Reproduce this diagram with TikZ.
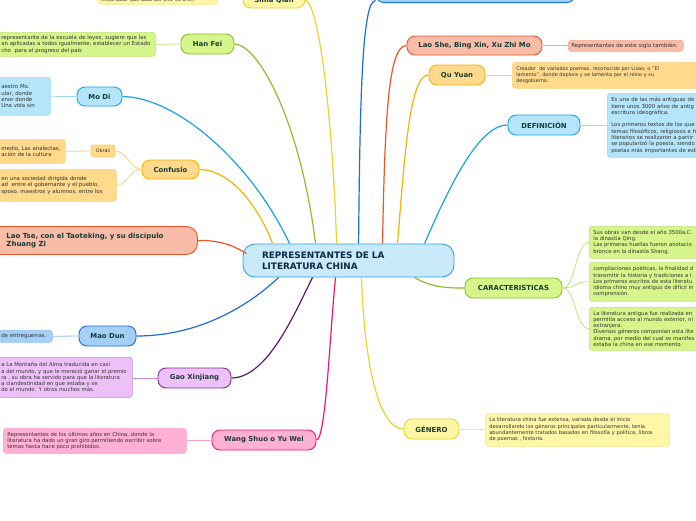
\documentclass[tikz,border=0pt]{standalone}
\usepackage{fontspec}
\setmainfont{DejaVu Sans}
\definecolor{titlecol}{HTML}{173D35}
\definecolor{maincol}{HTML}{0D2A45}
\definecolor{notecol}{HTML}{333333}
\definecolor{yelF}{HTML}{FFF6A6}\definecolor{yelD}{HTML}{E8D52E}\definecolor{yelL}{HTML}{F3E88A}
\definecolor{grnF}{HTML}{D6F58A}\definecolor{grnD}{HTML}{8DBF2E}\definecolor{grnL}{HTML}{C2E57A}
\definecolor{bluF}{HTML}{B5E5FB}\definecolor{bluD}{HTML}{1BA2E4}\definecolor{bluL}{HTML}{9AD8F4}
\definecolor{oraF}{HTML}{FFD98C}\definecolor{oraD}{HTML}{F5B300}\definecolor{oraL}{HTML}{FBD27A}
\definecolor{salF}{HTML}{F9BCA8}\definecolor{salD}{HTML}{F0552A}\definecolor{salL}{HTML}{F6A894}
\definecolor{mdbF}{HTML}{A4D0F8}\definecolor{mdbD}{HTML}{1A6ED8}\definecolor{mdbL}{HTML}{8DC0F2}
\definecolor{purF}{HTML}{EEC0F8}\definecolor{purD}{HTML}{7A2E8C}\definecolor{purL}{HTML}{C58AD4}\definecolor{purK}{HTML}{5A1A6C}
\definecolor{pnkF}{HTML}{FFB0D4}\definecolor{pnkD}{HTML}{F0186E}\definecolor{pnkL}{HTML}{F8A0C8}
\definecolor{cenF}{HTML}{C8EAFB}\definecolor{cenD}{HTML}{3A9EE0}
\newcommand{\fs}[1]{\fontsize{#1}{6.3}\selectfont}
\begin{document}
\begin{tikzpicture}[x=1pt,y=-1pt,
  topic/.style={draw, rounded corners=8pt, line width=0.9pt, font=\fontsize{6.9}{8}\selectfont\bfseries, text=titlecol, inner sep=0pt, align=center},
  note/.style={draw, rounded corners=3pt, line width=0.6pt, font=\fs{5.3}, text=notecol, inner xsep=3pt, inner ysep=0pt, align=left, anchor=north west},
  link/.style={line width=1.2pt},
  sublink/.style={line width=0.8pt}]
\useasboundingbox (0,0) rectangle (696,520);
\clip (0,0) rectangle (696,520);
\fill[white] (0,0) rectangle (696,520);

% center
\node[draw=cenD, fill=cenF, rounded corners=12pt, line width=0.9pt, minimum width=211pt, minimum height=33pt, text width=173pt, inner xsep=19pt, inner ysep=0pt, align=left, font=\fontsize{8.9}{11}\selectfont\bfseries, text=maincol] (cen) at (348.5,260.5) {REPRESENTANTES DE LA\\LITERATURA CHINA};

% ---------- left side ----------
\node[topic, fill=yelF, draw=yelD, minimum width=62pt, minimum height=16pt] (sima) at (274,0) {Sima Qian};
\node[note, fill=yelF, draw=yelL, text width=113pt, inner ysep=1.5pt, anchor=south west, font=\fs{5}] (simanote) at (98,4.5) {historiador que data del 145-90 a.C.)};

\node[topic, fill=grnF, draw=grnD, minimum width=53pt, minimum height=20pt] (hanfei) at (207.5,44) {Han Fei};
\node[note, fill=grnF, draw=grnL, minimum width=157pt, minimum height=24pt, text width=151pt, font=\fs{5.4}] (hanfeinote) at (-2,32) {representante de la escuela de leyes, sugiere que las\\an aplicadas a todos igualmente, establecer un Estado\\cho\ \ para el progreso del país};

\node[topic, fill=bluF, draw=bluD, minimum width=45pt, minimum height=19pt] (modi) at (99.5,96.5) {Mo Di};
\node[note, fill=bluF, draw=bluL, minimum width=52pt, minimum height=38pt, text width=46pt, font=\fs{5.4}] (modinote) at (-2,77) {aestro Mo.\\ular, donde\\enor donde\\Una vida sin};

\node[topic, fill=oraF, draw=oraD, minimum width=57pt, minimum height=19pt] (conf) at (170.5,169.5) {Confusio};
\node[draw=oraL, fill=oraF, rounded corners=2pt, line width=0.6pt, minimum width=24pt, minimum height=12pt, inner sep=0pt, font=\fontsize{4.8}{5}\selectfont, text=notecol] (obras) at (103,151) {Obras};
\node[note, fill=oraF, draw=oraL, minimum width=67pt, minimum height=24pt, text width=61pt, font=\fs{5.4}] (obrasnote) at (-2,139) {medio, Las analectas,\\ación de la cultura};
\node[note, fill=oraF, draw=oraL, minimum width=118pt, minimum height=32pt, text width=112pt, font=\fs{5.4}] (confnote) at (-2,169) {en una sociedad dirigida donde\\ad\ \ entre el gobernante y el pueblo,\\sposo, maestros y alumnos, entre los};

\node[draw=salD, fill=salF, rounded corners=11pt, line width=0.9pt, minimum width=207pt, minimum height=28pt, text width=175pt, inner xsep=16pt, inner ysep=0pt, align=left, font=\fontsize{7}{9}\selectfont\bfseries, text=titlecol, anchor=north west] (laotse) at (-10,226) {Lao Tse, con el Taoteking, y su discípulo\\Zhuang Zi};

\node[topic, fill=mdbF, draw=mdbD, minimum width=57pt, minimum height=20pt] (maodun) at (107.5,336) {Mao Dun};
\node[note, fill=mdbF, draw=mdbL, minimum width=54pt, minimum height=12pt, text width=48pt, font=\fs{5.4}] (maonote) at (-2,330) {de entreguerras.};

\node[topic, fill=purF, draw=purD, minimum width=73pt, minimum height=20pt] (gao) at (194.5,378) {Gao Xinjiang};
\node[note, fill=purF, draw=purL, minimum width=134pt, minimum height=40pt, text width=128pt] (gaonote) at (-2,357) {a La Montaña del Alma traducida en casi\\a del mundo, y que le mereció ganar el premio\\ra , su obra ha servido para que la literatura\\a clandestinidad en que estaba y se\\do el mundo. Y otros muchos más.};

\node[topic, fill=pnkF, draw=pnkD, minimum width=104pt, minimum height=20pt] (wang) at (264,440) {Wang Shuo o Yu Wei};
\node[note, fill=pnkF, draw=pnkL, minimum width=183pt, minimum height=25pt, text width=175pt, inner xsep=4pt] (wangnote) at (3,428) {Representantes de los últimos años en China, donde la\\literatura ha dado un gran giro permitiendo escribir sobre\\temas hasta hace poco prohibidos.};

% ---------- right side ----------
\node[topic, fill=mdbF, draw=mdbD, minimum width=199pt, minimum height=20pt, anchor=south] (topblue) at (475.5,3) {};

\node[topic, fill=salF, draw=salD, minimum width=135pt, minimum height=19pt] (laoshe) at (474.5,45.5) {Lao She, Bing Xin, Xu Zhi Mo};
\node[note, fill=salF, draw=salL, minimum width=115pt, minimum height=11pt, text width=109pt, font=\fs{5.5}] (laoshenote) at (568,40) {Representantes de este siglo también.};

\node[topic, fill=oraF, draw=oraD, minimum width=56pt, minimum height=20pt] (quyuan) at (457,75) {Qu Yuan};
\node[note, fill=oraF, draw=oraL, minimum width=190pt, minimum height=26pt, text width=182pt, inner xsep=4pt, font=\fs{4.95}] (quyuannote) at (512,62) {Creador\ \ de variados poemas, reconocido por Lisao, o "El\\lamento", donde deplora y se lamenta por el reino y su\\desgobierno.};

\node[topic, fill=bluF, draw=bluD, minimum width=72pt, minimum height=20pt] (def) at (544,125) {DEFINICIÓN};
\node[note, fill=bluF, draw=bluL, minimum width=100pt, minimum height=64pt, text width=150pt, inner xsep=4pt, font=\fs{5.4}] (defnote) at (607,93) {Es una de las más antiguas de\\tiene unos 3000 años de antig\\escritura ideográfica.\\[6.3pt]Los primeros textos de los que\\temas filosóficos, religiosos e h\\literarios se realizaron a partir\\se popularizó la poesía, siendo\\poetas más importantes de est};

\node[topic, fill=grnF, draw=grnD, minimum width=97pt, minimum height=20pt] (car) at (513.5,288) {CARACTERISTICAS};
\node[note, fill=grnF, draw=grnL, minimum width=115pt, minimum height=32pt, text width=140pt, inner xsep=4pt] (carA) at (589,226) {Sus obras van desde el año 3500a.C.\\la dinastía Qing.\\Las primeras huellas fueron anotacio\\bronce en la dinastía Shang.};
\node[note, fill=grnF, draw=grnL, minimum width=115pt, minimum height=39pt, text width=140pt, inner xsep=4pt] (carB) at (589,262) {compilaciones poéticas, la finalidad d\\transmitir la historia y tradiciones a l\\Los primeros escritos de esta literatu\\idioma chino muy antiguo de difícil in\\comprensión.};
\node[note, fill=grnF, draw=grnL, minimum width=115pt, minimum height=43pt, text width=140pt, inner xsep=4pt] (carC) at (589,307) {La literatura antigua fue realizada en\\permitía acceso al mundo exterior, ni\\extranjera.\\Diversos géneros componían esta lite\\drama, por medio del cual se manifes\\estaba la china en ese momento.};

\node[topic, fill=yelF, draw=yelD, minimum width=55pt, minimum height=20pt] (gen) at (431.5,429) {GÉNERO};
\node[note, fill=yelF, draw=yelL, minimum width=184pt, minimum height=33pt, text width=176pt, inner xsep=4pt, font=\fs{5.15}] (gennote) at (485,413) {La literatura china fue extensa, variada desde el inicio\\desarrollando los géneros principales particularmente, tenía\\abundantemente tratados basados en filosofía y política, libros\\de poemas , historia.};

% ---------- main connectors ----------
\draw[link, yelD] (sima.east) .. controls (322,8) and (334,150) .. ([xshift=94pt]cen.north west);
\draw[link, grnD] (hanfei.east) .. controls (258,44) and (300,120) .. ([xshift=73pt]cen.north west);
\draw[link, bluD] (modi.east) .. controls (175,97) and (250,160) .. ([xshift=47pt]cen.north west);
\draw[link, oraD] (conf.east) .. controls (235,170) and (262,215) .. ([xshift=30pt]cen.north west);
\draw[link, salD] (laotse.east) .. controls (222,240) and (236,247) .. ([xshift=4pt,yshift=-10pt]cen.north west);
\draw[link, mdbD] (maodun.east) .. controls (205,336) and (255,300) .. ([xshift=36pt]cen.south west);
\draw[link, purK] (gao.east) .. controls (268,378) and (296,310) .. ([xshift=70pt]cen.south west);
\draw[link, pnkD] (wang.east) .. controls (326,440) and (330,330) .. ([xshift=93pt]cen.south west);
\draw[link, mdbD] ([xshift=116pt]cen.north west) .. controls (360,100) and (362,0) .. ([yshift=-8pt]topblue.west);
\draw[link, salD] ([xshift=140pt]cen.north west) .. controls (385,100) and (390,46) .. (laoshe.west);
\draw[link, oraD] ([xshift=155pt]cen.north west) .. controls (405,150) and (410,75) .. (quyuan.west);
\draw[link, bluD] ([xshift=182pt]cen.north west) .. controls (452,180) and (480,125) .. (def.west);
\draw[link, grnD] ([xshift=172pt]cen.south west) .. controls (432,288) and (450,288) .. (car.west);
\draw[link, yelD] ([xshift=119pt]cen.south west) .. controls (364,360) and (378,429) .. (gen.west);

% ---------- sub connectors ----------
\draw[sublink, grnL] (hanfei.west) -- (hanfeinote.east);
\draw[sublink, bluL] (modi.west) -- (modinote.east);
\draw[sublink, oraL] (conf.west) .. controls (130,169) and (127,151) .. (obras.east);
\draw[sublink, oraL] (conf.west) .. controls (130,169) and (127,185) .. (confnote.east);
\draw[sublink, oraL] (obras.west) -- (obrasnote.east);
\draw[sublink, mdbL] (maodun.west) -- (maonote.east);
\draw[sublink, purL] (gao.west) -- (gao.west -| gaonote.east);
\draw[sublink, pnkL] (wang.west) -- (wang.west -| wangnote.east);
\draw[sublink, salL] (laoshe.east) -- (laoshe.east -| laoshenote.west);
\draw[sublink, oraL] (quyuan.east) -- (quyuan.east -| quyuannote.west);
\draw[sublink, bluL] (def.east) -- (def.east -| defnote.west);
\draw[sublink, grnL] (car.east) .. controls (576,288) and (575,242) .. (carA.west);
\draw[sublink, grnL] (car.east) .. controls (576,288) and (576,281) .. (carB.west);
\draw[sublink, grnL] (car.east) .. controls (576,288) and (575,328) .. (carC.west);
\draw[sublink, yelL] (gen.east) -- (gen.east -| gennote.west);
\end{tikzpicture}
\end{document}
